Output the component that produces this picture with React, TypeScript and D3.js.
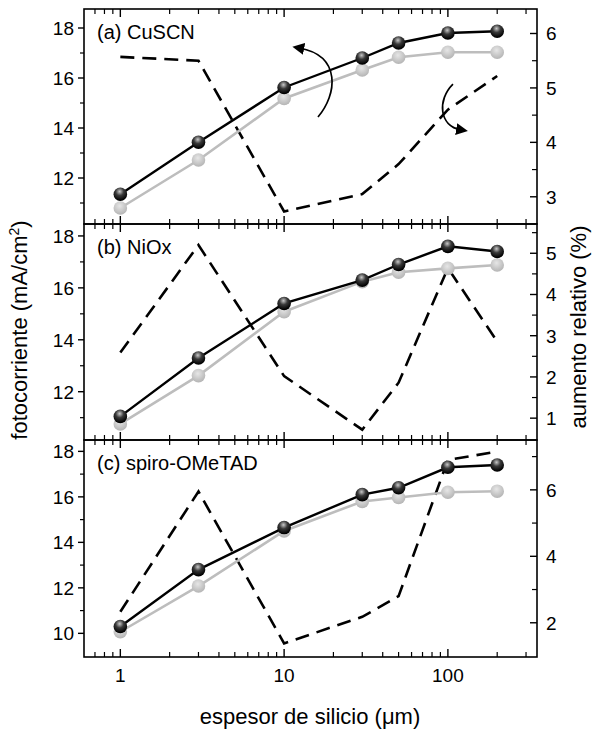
import React from "react";
import * as d3 from "d3";

const thickness = [1, 3, 10, 30, 50, 100, 200];

const panelNames = ["(a) CuSCN", "(b) NiOx", "(c) spiro-OMeTAD"];

// fotocorriente con capa (negro) y sin capa (gris), mA/cm2
const currentWithA = [11.35, 13.43, 15.62, 16.8, 17.4, 17.8, 17.87];
const currentRefA = [10.8, 12.72, 15.18, 16.32, 16.83, 17.03, 17.03];
const gainA = [5.57, 5.5, 2.73, 3.05, 3.6, 4.6, 5.22];

const currentWithB = [11.05, 13.3, 15.4, 16.3, 16.9, 17.6, 17.4];
const currentRefB = [10.76, 12.62, 15.08, 16.24, 16.6, 16.75, 16.88];
const gainB = [2.59, 5.2, 2.02, 0.72, 1.86, 4.64, 2.86];

const currentWithC = [10.3, 12.8, 14.65, 16.1, 16.4, 17.3, 17.4];
const currentRefC = [10.07, 12.08, 14.5, 15.8, 15.97, 16.2, 16.25];
const gainC = [2.33, 5.95, 1.38, 2.18, 2.8, 6.9, 7.15];

const leftDomains = [[10.16, 18.76], [10.14, 18.46], [8.96, 18.5]];
const rightDomains = [[2.5, 6.45], [0.47, 5.71], [0.97, 7.5]];
const leftTicks = [[12, 14, 16, 18], [12, 14, 16, 18], [10, 12, 14, 16, 18]];
const leftMinor = [[11, 13, 15, 17], [11, 13, 15, 17], [11, 13, 15, 17]];
const rightTicks = [[3, 4, 5, 6], [1, 2, 3, 4, 5], [2, 4, 6]];
const rightMinor = [[3.5, 4.5, 5.5], [1.5, 2.5, 3.5, 4.5, 5.5], [3, 5, 7]];

const xMajor = [1, 10, 100];
const xMinor = [0.7, 0.8, 0.9, 2, 3, 4, 5, 6, 7, 8, 9, 20, 30, 40, 50, 60, 70, 80, 90, 200, 300];

const panelTops = [9, 224, 440];
const panelBottoms = [224, 440, 657];

// arrow annotations in panel (a), data units
const arrowLeft = [[16.1, 14.44], [21.0, 15.32], [22.6, 16.88], [12.4, 17.2]];
const arrowRight = [[107.4, 5.07], [85.8, 4.78], [88.3, 4.3], [120.0, 4.23]];

const FONT = "'Liberation Sans', Arial, sans-serif";

export default function App() {
  const L = 84, R = 537;
  const x = d3.scaleLog().domain([0.6, 350]).range([L, R]);
  const panels = [
    { w: currentWithA, r: currentRefA, g: gainA },
    { w: currentWithB, r: currentRefB, g: gainB },
    { w: currentWithC, r: currentRefC, g: gainC },
  ];

  return (
    <svg width={594} height={733} style={{ position: "absolute", left: 0, top: 0, background: "#fff" }}
      fontFamily={FONT}>
      <defs>
        <radialGradient id="blk" cx="45%" cy="30%" r="65%">
          <stop offset="0%" stopColor="#c8c8c8" />
          <stop offset="45%" stopColor="#3a3a3a" />
          <stop offset="100%" stopColor="#000" />
        </radialGradient>
        <radialGradient id="gry" cx="45%" cy="35%" r="65%">
          <stop offset="0%" stopColor="#e6e6e6" />
          <stop offset="100%" stopColor="#b4b4b4" />
        </radialGradient>
        <marker id="ah" viewBox="0 0 10 10" refX="4" refY="5" markerWidth="7" markerHeight="7" orient="auto-start-reverse">
          <path d="M0,0 L10,5 L0,10 z" fill="#000" />
        </marker>
      </defs>
      {panels.map((p, i) => {
        const top = panelTops[i], bot = panelBottoms[i];
        const yl = d3.scaleLinear().domain(leftDomains[i]).range([bot, top]);
        const yr = d3.scaleLinear().domain(rightDomains[i]).range([bot, top]);
        const lineL = d3.line<number>().x((_, k) => x(thickness[k])).y(v => yl(v));
        const lineR = d3.line<number>().x((_, k) => x(thickness[k])).y(v => yr(v));
        return (
          <g key={i}>
            <path d={lineR(p.g) || ""} fill="none" stroke="#000" strokeWidth={2.6} strokeDasharray="14,8" />
            <path d={lineL(p.r) || ""} fill="none" stroke="#bdbdbd" strokeWidth={2.6} />
            {p.r.map((v, k) => (
              <circle key={"r" + k} cx={x(thickness[k])} cy={yl(v)} r={6.8} fill="url(#gry)" />
            ))}
            <path d={lineL(p.w) || ""} fill="none" stroke="#000" strokeWidth={2.4} />
            {p.w.map((v, k) => (
              <circle key={"w" + k} cx={x(thickness[k])} cy={yl(v)} r={6.8} fill="url(#blk)" />
            ))}
            <rect x={L} y={top} width={R - L} height={bot - top} fill="none" stroke="#000" strokeWidth={1.6} />
            {xMajor.map(t => (
              <g key={"xm" + t}>
                <line x1={x(t)} x2={x(t)} y1={top} y2={top + 8} stroke="#000" strokeWidth={1.4} />
                <line x1={x(t)} x2={x(t)} y1={bot} y2={bot - 8} stroke="#000" strokeWidth={1.4} />
              </g>
            ))}
            {xMinor.map(t => (
              <g key={"xn" + t}>
                <line x1={x(t)} x2={x(t)} y1={top} y2={top + 5} stroke="#000" strokeWidth={1.2} />
                <line x1={x(t)} x2={x(t)} y1={bot} y2={bot - 5} stroke="#000" strokeWidth={1.2} />
              </g>
            ))}
            {leftTicks[i].map(t => (
              <g key={"lt" + t}>
                <line x1={L - 6} x2={L} y1={yl(t)} y2={yl(t)} stroke="#000" strokeWidth={1.4} />
                <text x={L - 10} y={yl(t)} dy="0.36em" textAnchor="end" fontSize={19}>{t}</text>
              </g>
            ))}
            {leftMinor[i].map(t => (
              <line key={"lm" + t} x1={L - 4} x2={L} y1={yl(t)} y2={yl(t)} stroke="#000" strokeWidth={1.2} />
            ))}
            {rightTicks[i].map(t => (
              <g key={"rt" + t}>
                <line x1={R - 7} x2={R} y1={yr(t)} y2={yr(t)} stroke="#000" strokeWidth={1.4} />
                <text x={R + 9} y={yr(t)} dy="0.36em" textAnchor="start" fontSize={19}>{t}</text>
              </g>
            ))}
            {rightMinor[i].map(t => (
              <line key={"rm" + t} x1={R - 5} x2={R} y1={yr(t)} y2={yr(t)} stroke="#000" strokeWidth={1.2} />
            ))}
            <text x={L + 13} y={top + 30} fontSize={20}>{panelNames[i]}</text>
            {i === 0 && (
              <g>
                <path
                  d={`M${x(arrowLeft[0][0])},${yl(arrowLeft[0][1])} C${x(arrowLeft[1][0])},${yl(arrowLeft[1][1])} ${x(arrowLeft[2][0])},${yl(arrowLeft[2][1])} ${x(arrowLeft[3][0])},${yl(arrowLeft[3][1])}`}
                  fill="none" stroke="#000" strokeWidth={1.7} markerEnd="url(#ah)" />
                <path
                  d={`M${x(arrowRight[0][0])},${yr(arrowRight[0][1])} C${x(arrowRight[1][0])},${yr(arrowRight[1][1])} ${x(arrowRight[2][0])},${yr(arrowRight[2][1])} ${x(arrowRight[3][0])},${yr(arrowRight[3][1])}`}
                  fill="none" stroke="#000" strokeWidth={1.7} markerEnd="url(#ah)" />
              </g>
            )}
          </g>
        );
      })}
      {xMajor.map(t => (
        <text key={"xl" + t} x={x(t)} y={682} textAnchor="middle" fontSize={19}>{t}</text>
      ))}
      <text x={310} y={724} textAnchor="middle" fontSize={22}>espesor de silicio (μm)</text>
      <text transform="translate(27,330) rotate(-90)" textAnchor="middle" fontSize={22}>
        fotocorriente (mA/cm<tspan dy="-8" fontSize={14}>2</tspan><tspan dy="8">)</tspan>
      </text>
      <text transform="translate(586,327) rotate(-90)" textAnchor="middle" fontSize={22}>aumento relativo (%)</text>
    </svg>
  );
}
